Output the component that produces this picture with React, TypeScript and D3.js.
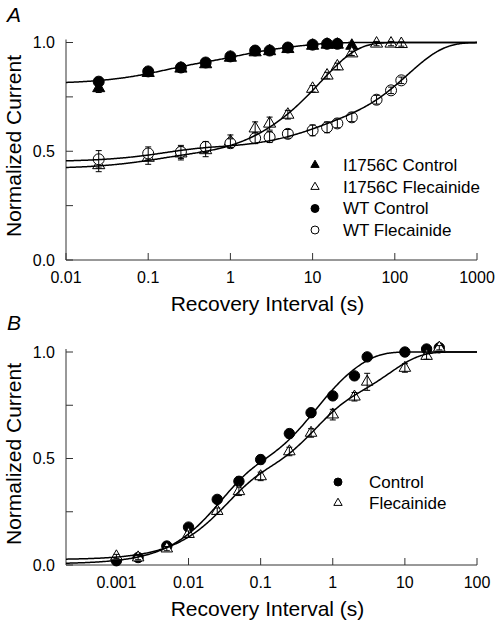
import React from "react";
import * as d3 from "d3";

// ---------- Panel A data ----------
const tWTCtrlA = [0.025, 0.1, 0.25, 0.5, 1, 2, 3, 5, 10, 15, 20];
const vWTCtrlA = [0.82, 0.867, 0.885, 0.908, 0.936, 0.963, 0.963, 0.977, 0.99, 0.994, 0.994];
const eWTCtrlA = [0.02, 0.015, 0.015, 0.015, 0.015, 0.01, 0.01, 0.01, 0.01, 0.01, 0.01];

const tMutCtrlA = [0.025, 0.1, 0.25, 0.5, 1, 2, 3, 5, 10, 15, 20, 30];
const vMutCtrlA = [0.79, 0.86, 0.88, 0.9, 0.93, 0.955, 0.96, 0.97, 0.985, 0.99, 0.99, 0.985];
const eMutCtrlA = [0.02, 0.015, 0.015, 0.015, 0.015, 0.01, 0.01, 0.01, 0.01, 0.01, 0.01, 0.01];

const tWTFlecA = [0.025, 0.1, 0.25, 0.5, 1, 2, 3, 5, 10, 15, 20, 30, 60, 90, 120];
const vWTFlecA = [0.463, 0.49, 0.497, 0.52, 0.537, 0.56, 0.565, 0.58, 0.596, 0.61, 0.628, 0.656, 0.737, 0.78, 0.826];
const eWTFlecA = [0.04, 0.03, 0.03, 0.025, 0.02, 0.025, 0.025, 0.02, 0.025, 0.025, 0.02, 0.02, 0.02, 0.015, 0.015];

const tMutFlecA = [0.025, 0.1, 0.25, 0.5, 1, 2, 3, 5, 10, 15, 20, 30, 60, 90, 120];
const vMutFlecA = [0.436, 0.47, 0.49, 0.505, 0.545, 0.605, 0.627, 0.668, 0.787, 0.848, 0.89, 0.95, 0.995, 0.995, 0.993];
const eMutFlecA = [0.03, 0.03, 0.03, 0.03, 0.03, 0.03, 0.03, 0.02, 0.015, 0.015, 0.015, 0.01, 0.01, 0.01, 0.01];

// fit parameters (y = 1 - sum a_i exp(-t/tau_i))
const fitCtrlAAmp = [0.07, 0.07, 0.05];
const fitCtrlATau = [0.12, 1, 6];
const fitWTFlecAAmp = [0.06, 0.09, 0.398];
const fitWTFlecATau = [0.15, 8, 145];
const fitMutFlecAAmp = [0.05, 0.055, 0.475];
const fitMutFlecATau = [0.1, 2, 13];

// ---------- Panel B data ----------
const tCtrlB = [0.001, 0.002, 0.005, 0.01, 0.025, 0.05, 0.1, 0.25, 0.5, 1, 2, 3, 10, 20, 30];
const vCtrlB = [0.02, 0.035, 0.089, 0.178, 0.308, 0.393, 0.495, 0.617, 0.715, 0.794, 0.888, 0.977, 1.0, 1.014, 1.02];
const eCtrlB = [0.01, 0.01, 0.01, 0.015, 0.015, 0.02, 0.02, 0.02, 0.02, 0.015, 0.015, 0.01, 0.01, 0.01, 0.01];

const tFlecB = [0.001, 0.002, 0.005, 0.01, 0.025, 0.05, 0.1, 0.25, 0.5, 1, 2, 3, 10, 20, 30];
const vFlecB = [0.04, 0.035, 0.077, 0.145, 0.253, 0.346, 0.416, 0.533, 0.62, 0.706, 0.79, 0.86, 0.925, 0.981, 1.02];
const eFlecB = [0.01, 0.01, 0.01, 0.015, 0.015, 0.02, 0.02, 0.02, 0.02, 0.025, 0.02, 0.04, 0.02, 0.015, 0.01];

const fitCtrlBAmp = [0.4, 0.3, 0.295];
const fitCtrlBTau = [0.025, 0.4, 1.5];
const fitFlecBAmp = [0.35, 0.35, 0.275];
const fitFlecBTau = [0.03, 0.5, 6];

// ---------- ticks / labels ----------
const xTicksA = [0.01, 0.1, 1, 10, 100, 1000];
const xTickLabelsA = ["0.01", "0.1", "1", "10", "100", "1000"];
const xTicksB = [0.001, 0.01, 0.1, 1, 10, 100];
const xTickLabelsB = ["0.001", "0.01", "0.1", "1", "10", "100"];
const yTicks = [0, 0.25, 0.5, 0.75, 1];
const yTickLabels = ["0.0", "", "0.5", "", "1.0"];

const legendA = ["I1756C Control", "I1756C Flecainide", "WT Control", "WT Flecainide"];
const legendB = ["Control", "Flecainide"];

const FONT = "'Liberation Sans', Arial, Helvetica, sans-serif";

function fitFn(amp: number[], tau: number[]) {
  return (t: number) => 1 - amp.reduce((s, a, i) => s + a * Math.exp(-t / tau[i]), 0);
}

function Axes({ x, y, xTicks, xLabels, title, panel, panelY, titleYCenter }: any) {
  const [x0, x1] = x.range();
  const [yb] = y.range();
  return (
    <g fontFamily={FONT} fill="#000">
      <line x1={x0} x2={x1} y1={yb} y2={yb} stroke="#333" strokeWidth={1} />
      <line x1={x0} x2={x0} y1={yb} y2={y(1) - 3} stroke="#333" strokeWidth={1} />
      {xTicks.map((t: number, i: number) => (
        <g key={"xt" + i}>
          <line x1={x(t)} x2={x(t)} y1={yb} y2={yb - 7} stroke="#333" />
          <text x={x(t)} y={yb + 23} fontSize={16} textAnchor="middle">{xLabels[i]}</text>
        </g>
      ))}
      {yTicks.map((v, i) => (
        <g key={"yt" + i}>
          <line x1={x0} x2={x0 + 7} y1={y(v)} y2={y(v)} stroke="#333" />
          {yTickLabels[i] && (
            <text x={55} y={y(v)} fontSize={16} textAnchor="end" dominantBaseline="central">{yTickLabels[i]}</text>
          )}
        </g>
      ))}
      <text x={(x0 + x1) / 2 - 4} y={yb + 51} fontSize={21} textAnchor="middle">{title}</text>
      <text transform={`translate(21,${titleYCenter}) rotate(-90)`} fontSize={21} textAnchor="middle">Normalized Current</text>
      <text x={7} y={panelY} fontSize={21} fontStyle="italic">{panel}</text>
    </g>
  );
}

function Series({ x, y, ts, vs, es, kind, filled, size }: any) {
  const sym = d3.symbol().type(kind === "tri" ? d3.symbolTriangle : d3.symbolCircle).size(size);
  const path = sym() as string;
  return (
    <g>
      {ts.map((t: number, i: number) => (
        <path key={"m" + i} d={path} transform={`translate(${x(t)},${y(vs[i])})`}
          fill={filled ? "#000" : "#fff"} stroke="#000" strokeWidth={1} />
      ))}
      {ts.map((t: number, i: number) => {
        const cx = x(t), yh = y(vs[i] + es[i]), yl = y(vs[i] - es[i]);
        return (
          <g key={"e" + i} stroke="#000" strokeWidth={1}>
            <line x1={cx} x2={cx} y1={yh} y2={yl} />
            <line x1={cx - 3} x2={cx + 3} y1={yh} y2={yh} />
            <line x1={cx - 3} x2={cx + 3} y1={yl} y2={yl} />
          </g>
        );
      })}
    </g>
  );
}

function FitLine({ x, y, f }: any) {
  const [d0, d1] = x.domain();
  const n = 400;
  const pts = d3.range(n + 1).map((i) => Math.pow(10, Math.log10(d0) + (i / n) * (Math.log10(d1) - Math.log10(d0))));
  const line = d3.line<number>().x((t) => x(t)).y((t) => y(f(t))).curve(d3.curveLinear);
  return <path d={line(pts) as string} fill="none" stroke="#000" strokeWidth={1.5} />;
}

export default function App() {
  const xA = d3.scaleLog().domain([0.01, 1000]).range([66, 477]);
  const yA = d3.scaleLinear().domain([0, 1]).range([260, 42.5]);
  const xB = d3.scaleLog().domain([0.0002, 100]).range([66, 477]);
  const yB = d3.scaleLinear().domain([0, 1]).range([565, 352]);

  const triBig = 64, circBig = 95, circB = 85, triB = 58;
  const triLeg = 30, circLeg = 50;

  const legSymsA = [
    { kind: "tri", filled: true },
    { kind: "tri", filled: false },
    { kind: "circ", filled: true },
    { kind: "circ", filled: false },
  ];
  const legYA = [165, 187, 208.5, 230];
  const legSymsB = [
    { kind: "circ", filled: true },
    { kind: "tri", filled: false },
  ];
  const legYB = [482, 503];

  const symPath = (kind: string, size: number) =>
    (d3.symbol().type(kind === "tri" ? d3.symbolTriangle : d3.symbolCircle).size(size)() as string);

  return (
    <svg width={496} height={623} style={{ position: "absolute", left: 0, top: 0, background: "#fff" }}>
      <rect width={496} height={623} fill="#fff" />
      {/* Panel A */}
      <Axes x={xA} y={yA} xTicks={xTicksA} xLabels={xTickLabelsA} title="Recovery Interval (s)" panel="A" panelY={22} titleYCenter={146} />
      <Series x={xA} y={yA} ts={tMutCtrlA} vs={vMutCtrlA} es={eMutCtrlA} kind="tri" filled size={triBig} />
      <Series x={xA} y={yA} ts={tMutFlecA} vs={vMutFlecA} es={eMutFlecA} kind="tri" filled={false} size={triBig} />
      <Series x={xA} y={yA} ts={tWTCtrlA} vs={vWTCtrlA} es={eWTCtrlA} kind="circ" filled size={circBig} />
      <Series x={xA} y={yA} ts={tWTFlecA} vs={vWTFlecA} es={eWTFlecA} kind="circ" filled={false} size={circBig} />
      <FitLine x={xA} y={yA} f={fitFn(fitCtrlAAmp, fitCtrlATau)} />
      <FitLine x={xA} y={yA} f={fitFn(fitWTFlecAAmp, fitWTFlecATau)} />
      <FitLine x={xA} y={yA} f={fitFn(fitMutFlecAAmp, fitMutFlecATau)} />
      <g fontFamily={FONT}>
        {legendA.map((lab, i) => (
          <g key={lab}>
            <path d={symPath(legSymsA[i].kind, legSymsA[i].kind === "tri" ? triLeg : circLeg)}
              transform={`translate(315,${legYA[i]})`} fill={legSymsA[i].filled ? "#000" : "#fff"} stroke="#000" strokeWidth={1} />
            <text x={343} y={legYA[i]} fontSize={17} dominantBaseline="central">{lab}</text>
          </g>
        ))}
      </g>

      {/* Panel B */}
      <Axes x={xB} y={yB} xTicks={xTicksB} xLabels={xTickLabelsB} title="Recovery Interval (s)" panel="B" panelY={330} titleYCenter={454} />
      <Series x={xB} y={yB} ts={tCtrlB} vs={vCtrlB} es={eCtrlB} kind="circ" filled size={circB} />
      <Series x={xB} y={yB} ts={tFlecB} vs={vFlecB} es={eFlecB} kind="tri" filled={false} size={triB} />
      <FitLine x={xB} y={yB} f={fitFn(fitCtrlBAmp, fitCtrlBTau)} />
      <FitLine x={xB} y={yB} f={fitFn(fitFlecBAmp, fitFlecBTau)} />
      <g fontFamily={FONT}>
        {legendB.map((lab, i) => (
          <g key={lab}>
            <path d={symPath(legSymsB[i].kind, legSymsB[i].kind === "tri" ? triLeg : circLeg)}
              transform={`translate(338,${legYB[i]})`} fill={legSymsB[i].filled ? "#000" : "#fff"} stroke="#000" strokeWidth={1} />
            <text x={369} y={legYB[i]} fontSize={17} dominantBaseline="central">{lab}</text>
          </g>
        ))}
      </g>
    </svg>
  );
}
